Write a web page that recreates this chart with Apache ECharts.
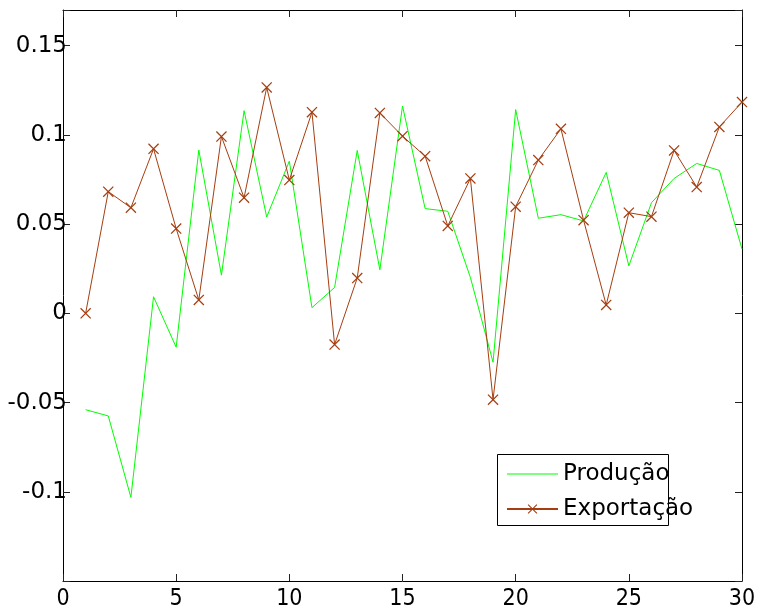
<!DOCTYPE html>
<html>
<head>
<meta charset="utf-8">
<script src="https://cdn.jsdelivr.net/npm/echarts@6/dist/echarts.min.js"></script>
<style>
html,body{margin:0;padding:0;background:#fff;}
#chart{width:761px;height:614px;}
</style>
</head>
<body>
<div id="chart"></div>
<script>
var xValues = [1,2,3,4,5,6,7,8,9,10,11,12,13,14,15,16,17,18,19,20,21,22,23,24,25,26,27,28,29,30];
var producao = [-0.054,-0.0575,-0.1031,0.0093,-0.019,0.0915,0.0214,0.1136,0.054,0.0853,0.0032,0.0145,0.0913,0.0244,0.1162,0.0587,0.0572,0.0201,-0.0274,0.1142,0.0533,0.0553,0.0518,0.079,0.0266,0.062,0.0756,0.084,0.0801,0.036];
var exportacao = [0.000,0.0682,0.0592,0.0922,0.0475,0.0075,0.0991,0.0648,0.1266,0.0747,0.1127,-0.0175,0.0198,0.1123,0.0993,0.0881,0.049,0.0756,-0.0484,0.0598,0.0859,0.1034,0.0522,0.0047,0.0564,0.0542,0.0913,0.0708,0.1045,0.1184];
var seriesNames = ['Produção','Exportação'];
var yTickLabels = ['-0.1','-0.05','0','0.05','0.1','0.15'];

function pairs(vals){ return xValues.map(function(x,i){ return [x, vals[i]]; }); }

var chart = echarts.init(document.getElementById('chart'));
var axisLineStyle = {show:true, onZero:false, lineStyle:{color:'#000', width:1}};
var tickStyle = {show:true, inside:true, length:7, lineStyle:{color:'#222', width:1}};
var xLabel = {fontFamily:'DejaVu Sans Condensed', fontSize:23, color:'#000', margin:7};
var crossPath = 'path://M0,0.8 L0.8,0 L10,9.2 L9.2,10 Z M9.2,0 L10,0.8 L0.8,10 L0,9.2 Z';
var linePath = 'path://M0,0 L100,0 L100,2 L0,2 Z';
var brown = '#a53e10';
var green = '#00ff00';

chart.setOption({
  animation:false,
  backgroundColor:'#fff',
  grid:{left:63, right:19, top:10, bottom:33, containLabel:false},
  xAxis:[
    {type:'value', position:'bottom', min:0, max:30, interval:5,
     axisLine:axisLineStyle, axisTick:tickStyle, splitLine:{show:false},
     axisLabel:xLabel},
    {type:'value', position:'top', min:0, max:30, interval:5,
     axisLine:axisLineStyle, axisTick:tickStyle, splitLine:{show:false},
     axisLabel:{show:false}}
  ],
  yAxis:[
    {type:'value', position:'left', min:-0.15, max:0.17, interval:0.05,
     axisLine:axisLineStyle, axisTick:tickStyle, splitLine:{show:false},
     axisLabel:{fontFamily:'DejaVu Sans', fontSize:23, color:'#000', margin:-4,
       formatter:function(v){
         var s = String(+v.toFixed(2));
         return yTickLabels.indexOf(s) >= 0 ? s : '';
       }}},
    {type:'value', position:'right', min:-0.15, max:0.17, interval:0.05,
     axisLine:axisLineStyle, axisTick:tickStyle, splitLine:{show:false},
     axisLabel:{show:false}}
  ],
  legend:{
    orient:'vertical', left:506, top:461, padding:0,
    itemWidth:51, itemHeight:12, itemGap:9,
    textStyle:{fontFamily:'DejaVu Sans', fontSize:23, color:'#000', lineHeight:26},
    data:[{name:seriesNames[0], icon:linePath}, seriesNames[1]]
  },
  graphic:[
    {type:'rect', left:495, top:452, shape:{width:171, height:71},
     style:{fill:'none', stroke:'#000', lineWidth:1}, z:-1, silent:true}
  ],
  series:[
    {name:seriesNames[0], type:'line', data:pairs(producao), symbol:'none',
     lineStyle:{color:green, width:1}, itemStyle:{color:green}},
    {name:seriesNames[1], type:'line', data:pairs(exportacao), symbol:crossPath, symbolSize:11,
     showAllSymbol:true,
     lineStyle:{color:brown, width:1}, itemStyle:{color:brown}}
  ]
});
</script>
</body>
</html>
